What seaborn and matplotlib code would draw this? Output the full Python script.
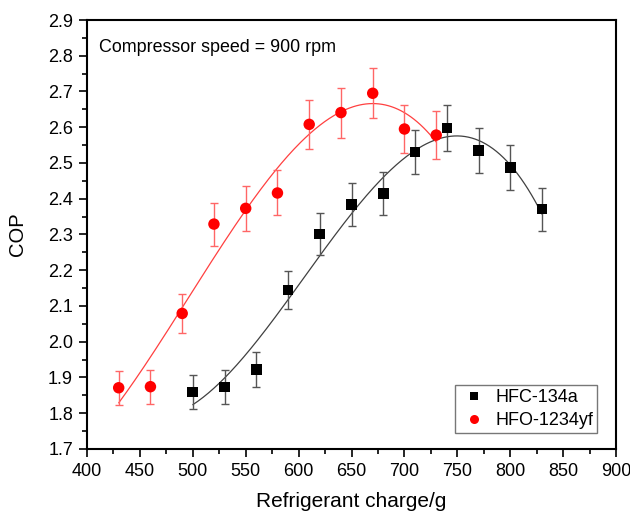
import numpy as np
import matplotlib
matplotlib.use("Agg")
import matplotlib.pyplot as plt
import seaborn as sns
from matplotlib.ticker import MultipleLocator
from matplotlib.lines import Line2D

# ---- data ----
charge_134a = [500, 530, 560, 590, 620, 650, 680, 710, 740, 770, 800, 830]
cop_134a = [1.859, 1.873, 1.922, 2.145, 2.301, 2.383, 2.415, 2.531, 2.598, 2.535, 2.487, 2.371]
err_134a = [0.047, 0.048, 0.048, 0.053, 0.058, 0.060, 0.060, 0.062, 0.064, 0.064, 0.063, 0.060]

charge_1234yf = [430, 460, 490, 520, 550, 580, 610, 640, 670, 700, 730]
cop_1234yf = [1.871, 1.874, 2.079, 2.329, 2.373, 2.416, 2.608, 2.641, 2.695, 2.595, 2.578]
err_1234yf = [0.048, 0.048, 0.055, 0.060, 0.063, 0.063, 0.068, 0.070, 0.070, 0.068, 0.068]

label_134a = "HFC-134a"
label_1234yf = "HFO-1234yf"

sns.set_style("white")
plt.rcParams['font.family'] = ['Liberation Sans', 'DejaVu Sans']
plt.rcParams.update({"text.color": "black", "axes.labelcolor": "black",
                     "xtick.color": "black", "ytick.color": "black"})

fig = plt.figure(figsize=(6.3, 5.13), dpi=100)
ax = fig.add_axes([0.138, 0.125, 0.840, 0.836])

def fit_curve(x, y, n=200):
    x = np.asarray(x, float); y = np.asarray(y, float)
    c = np.polyfit(x, y, 3)
    xs = np.linspace(x.min(), x.max(), n)
    return xs, np.polyval(c, xs)

xs1, ys1 = fit_curve(charge_134a, cop_134a)
xs2, ys2 = fit_curve(charge_1234yf, cop_1234yf)
sns.lineplot(x=xs1, y=ys1, ax=ax, color="#404040", lw=0.9, legend=False)
sns.lineplot(x=xs2, y=ys2, ax=ax, color="#ff4040", lw=0.9, legend=False)

ax.errorbar(charge_134a, cop_134a, yerr=err_134a, fmt="none", ecolor="#555555",
            elinewidth=1.0, capsize=3, capthick=1.0)
ax.errorbar(charge_1234yf, cop_1234yf, yerr=err_1234yf, fmt="none", ecolor="#ff6666",
            elinewidth=1.0, capsize=3, capthick=1.0)

sns.scatterplot(x=charge_134a, y=cop_134a, marker="s", color="black", s=58,
                edgecolor="none", ax=ax, zorder=5)
sns.scatterplot(x=charge_1234yf, y=cop_1234yf, marker="o", color="red", s=68,
                edgecolor="none", ax=ax, zorder=5)

ax.set_xlim(400, 900)
ax.set_ylim(1.7, 2.9)
ax.xaxis.set_major_locator(MultipleLocator(50))
ax.xaxis.set_minor_locator(MultipleLocator(25))
ax.yaxis.set_major_locator(MultipleLocator(0.1))
ax.yaxis.set_minor_locator(MultipleLocator(0.05))
ax.tick_params(axis="both", which="major", direction="out", length=6, width=1.2,
               labelsize=13, pad=4, colors="black",
               bottom=True, left=True, top=False, right=False)
ax.tick_params(axis="both", which="minor", direction="out", length=3.5, width=1.2,
               colors="black", bottom=True, left=True, top=False, right=False)
for sp in ax.spines.values():
    sp.set_linewidth(1.5)
    sp.set_color("black")

ax.set_xlabel("Refrigerant charge/g", fontsize=15, labelpad=9, color="black")
ax.set_ylabel("COP", fontsize=14.5, labelpad=15, color="black")

ax.text(0.022, 0.955, "Compressor speed = 900 rpm", transform=ax.transAxes,
        fontsize=12.9, va="top", ha="left", color="black")

handles = [
    Line2D([], [], ls="none", marker="s", color="black", markersize=5.5, markeredgewidth=0),
    Line2D([], [], ls="none", marker="o", color="red", markersize=6.5, markeredgewidth=0),
]
leg = ax.legend(handles, [label_134a, label_1234yf], loc="lower right",
                bbox_to_anchor=(0.964, 0.037), borderaxespad=0, fontsize=13,
                frameon=True, fancybox=False, edgecolor="#555555",
                handlelength=1.7, handletextpad=0.35, borderpad=0.2,
                labelspacing=0.35)
leg.get_frame().set_linewidth(1.0)
for t in leg.get_texts():
    t.set_color("black")

fig.savefig("out.png", dpi=100)
